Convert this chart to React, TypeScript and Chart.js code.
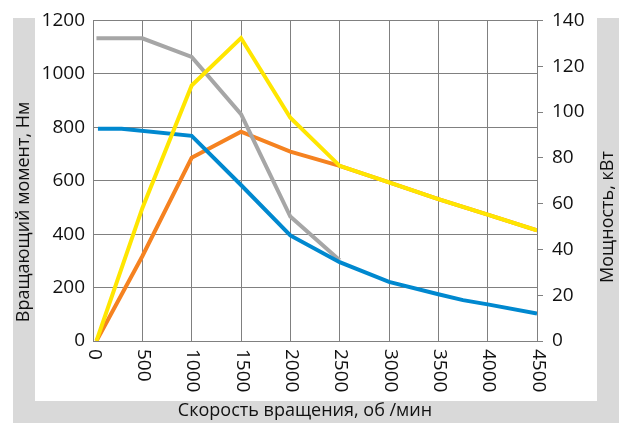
import React, { useEffect, useRef } from "react";
import { Chart, registerables } from "chart.js";

Chart.register(...registerables);

// ---- data ----
const rpmTicks = [0, 500, 1000, 1500, 2000, 2500, 3000, 3500, 4000, 4500];
const torqueTicks = [0, 200, 400, 600, 800, 1000, 1200];
const powerTicks = [0, 20, 40, 60, 80, 100, 120, 140];

const grayRpm = [35, 500, 1000, 1500, 2000, 2500];
const grayTorque = [1133, 1133, 1063, 849, 466, 302];

const blueRpm = [50, 290, 1000, 1500, 2000, 2500, 3000, 3500, 3750, 4000, 4500];
const blueTorque = [794, 794, 768, 584, 395, 295, 221, 175, 153, 137, 103];

const yellowRpm = [35, 500, 1000, 1500, 2000, 2500, 3000, 3500, 4000, 4500];
const yellowPower = [0, 58, 111.6, 132.3, 97.5, 76.5, 69.3, 62, 55.2, 48.3];

const orangeRpm = [35, 500, 1000, 1500, 2000, 2500, 3000, 3500, 4000, 4500];
const orangePower = [0, 37, 80, 91.4, 82.7, 76.5, 69.3, 62, 55.2, 48.3];

const xTitle = "Скорость вращения, об /мин";
const yTitle = "Вращающий момент, Нм";
const y1Title = "Мощность, кВт";

const toPts = (xs: number[], ys: number[]) => xs.map((x, i) => ({ x, y: ys[i] }));

const FONT = '"Open Sans", "Noto Sans", sans-serif';
const GRID = "#808080";
const TEXT = "#111111";

const decor = {
  id: "decor",
  beforeDraw(chart: any) {
    const ctx = chart.ctx;
    ctx.save();
    ctx.fillStyle = "#d9d9d9";
    ctx.fillRect(13, 18, 606, 405);
    ctx.fillStyle = "#ffffff";
    ctx.fillRect(35, 0, 562, 401);
    ctx.restore();
  },
  afterDraw(chart: any) {
    const ctx = chart.ctx;
    const xs = chart.scales.x;
    ctx.save();
    ctx.fillStyle = TEXT;
    ctx.font = `19px ${FONT}`;
    ctx.textAlign = "left";
    ctx.textBaseline = "middle";
    xs.ticks.forEach((t: any) => {
      const px = xs.getPixelForValue(t.value);
      ctx.save();
      ctx.translate(px + 1, xs.top + 8);
      ctx.rotate(Math.PI / 2);
      ctx.fillText(String(t.label), 0, 0);
      ctx.restore();
    });
    ctx.font = `18px ${FONT}`;
    ctx.textAlign = "center";
    ctx.fillText(xTitle, 305, 411);
    ctx.save();
    ctx.translate(24, 212);
    ctx.rotate(-Math.PI / 2);
    ctx.fillText(yTitle, 0, 0);
    ctx.restore();
    ctx.save();
    ctx.translate(608, 217);
    ctx.rotate(-Math.PI / 2);
    ctx.fillText(y1Title, 0, 0);
    ctx.restore();
    ctx.restore();
  },
};

export default function App() {
  const ref = useRef<HTMLCanvasElement>(null);
  useEffect(() => {
    const canvas = ref.current!;
    const lineDs = (label: string, data: any, color: string, axis: string) => ({
      label,
      data,
      borderColor: color,
      backgroundColor: color,
      borderWidth: 4,
      pointRadius: 0,
      tension: 0,
      fill: false,
      yAxisID: axis,
    });
    const chart = new Chart(canvas, {
      type: "line",
      data: {
        datasets: [
          lineDs("yellow", toPts(yellowRpm, yellowPower), "#ffe600", "y1"),
          lineDs("blue", toPts(blueRpm, blueTorque), "#0088cf", "y"),
          lineDs("gray", toPts(grayRpm, grayTorque), "#a6a6a6", "y"),
          lineDs("orange", toPts(orangeRpm, orangePower), "#f58220", "y1"),
        ] as any,
      },
      options: {
        responsive: false,
        animation: false,
        layout: { padding: { top: 19, left: 0, right: 0, bottom: 0 } },
        plugins: { legend: { display: false }, tooltip: { enabled: false } },
        scales: {
          x: {
            type: "linear",
            min: 0,
            max: 4500,
            afterBuildTicks: (s: any) => {
              s.ticks = rpmTicks.map((v) => ({ value: v }));
            },
            ticks: { display: false, callback: (v: any) => String(v) },
            grid: { color: GRID, drawTicks: false, lineWidth: 1 },
            border: { color: GRID },
            afterFit: (s: any) => {
              s.height = 82;
            },
          },
          y: {
            position: "left",
            min: 0,
            max: 1200,
            afterBuildTicks: (s: any) => {
              s.ticks = torqueTicks.map((v) => ({ value: v }));
            },
            ticks: {
              padding: 8,
              color: TEXT,
              font: { family: FONT, size: 19 },
              callback: (v: any) => String(v),
            },
            grid: { color: GRID, drawTicks: false, lineWidth: 1 },
            border: { color: GRID },
            afterFit: (s: any) => {
              s.width = 93;
            },
          },
          y1: {
            position: "right",
            min: 0,
            max: 140,
            afterBuildTicks: (s: any) => {
              s.ticks = powerTicks.map((v) => ({ value: v }));
            },
            ticks: {
              padding: 9,
              color: TEXT,
              font: { family: FONT, size: 19 },
              callback: (v: any) => String(v),
            },
            grid: { drawOnChartArea: false, color: GRID, tickLength: 6 },
            border: { color: GRID },
            afterFit: (s: any) => {
              s.width = 84;
            },
          },
        },
      } as any,
      plugins: [decor],
    });
    return () => chart.destroy();
  }, []);
  return (
    <div style={{ position: "fixed", left: 0, top: 0, width: 621, height: 423, background: "#fff" }}>
      <canvas ref={ref} width={621} height={423} style={{ display: "block" }} />
    </div>
  );
}
